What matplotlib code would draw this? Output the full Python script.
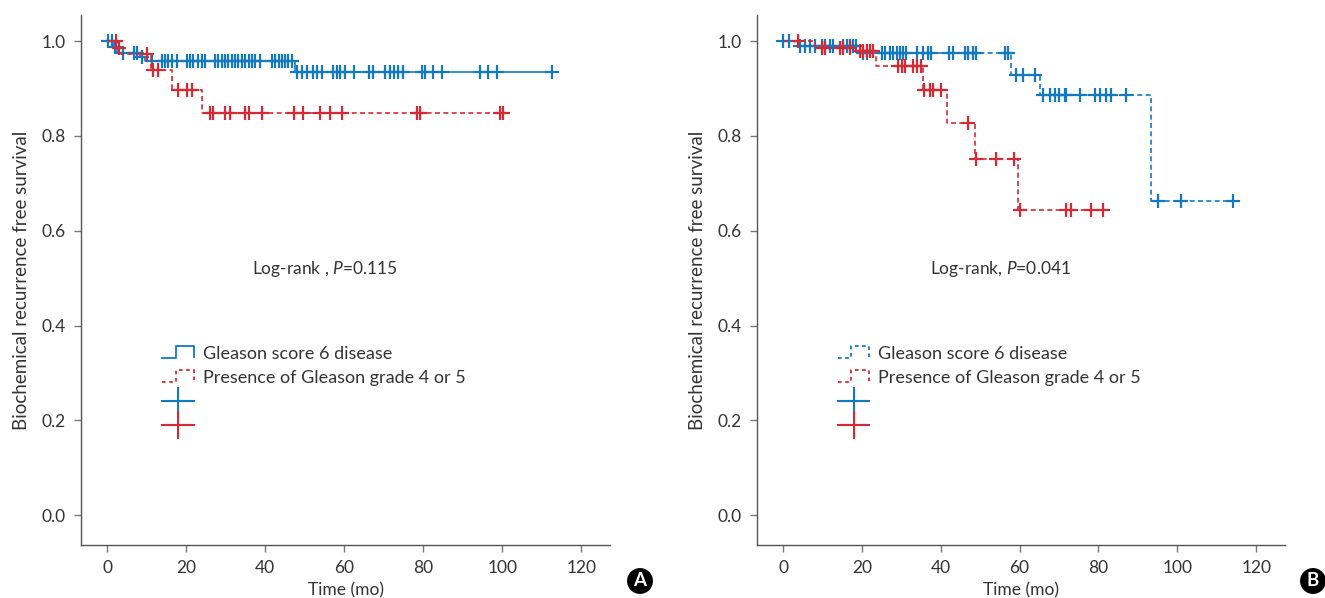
import numpy as np
import matplotlib
matplotlib.use("Agg")
import matplotlib.pyplot as plt
from matplotlib.lines import Line2D
from matplotlib.legend_handler import HandlerBase

plt.rcParams['font.family'] = ['Lato', 'DejaVu Sans']
plt.rcParams['mathtext.fontset'] = 'custom'
plt.rcParams['mathtext.rm'] = 'Lato'
plt.rcParams['mathtext.it'] = 'Lato:italic'

BLUE = '#1479c0'
RED = '#d42a35'

# ---------------- data ----------------
# Panel A
a_blue_step_t = [0, 1.5, 2.5, 8.4, 9.6, 47.5]
a_blue_step_s = [1.0, 0.988, 0.975, 0.966, 0.958, 0.935]
a_blue_cens = [0.3, 1.2, 2.0, 4.1, 6.7, 7.5, 8.8,
               11.3, 13.8, 14.7, 15.5, 16.4, 17.6, 20.2, 21.0, 21.8, 23.1, 24.0, 24.8,
               27.3, 28.2, 29.0, 29.9, 30.7, 31.6, 32.4, 33.2, 34.1, 34.9, 35.8, 36.6, 37.5, 38.7,
               41.7, 42.5, 43.4, 44.2, 45.1, 45.9, 46.8,
               48.0, 49.3, 50.6, 52.2, 53.1, 54.4, 57.3, 58.1, 59.0, 60.3, 62.4, 66.2, 67.4,
               70.4, 71.6, 72.5, 73.7, 75.0, 79.7, 80.5, 82.6, 84.7, 94.4, 96.5, 98.7, 112.6]

a_red_step_t = [0, 2.8, 3.5, 11.0, 16.4, 24.0]
a_red_step_s = [1.0, 0.986, 0.972, 0.939, 0.897, 0.849]
a_red_cens = [2.3, 3.0, 10.0, 11.5, 13.0, 18.0, 20.2, 21.4,
              26.1, 26.9, 29.9, 31.1, 35.0, 36.0, 39.2, 47.2, 49.7, 53.9, 56.5, 59.4,
              78.4, 79.2, 99.5, 100.3]

# Panel B
b_blue_step_t = [0, 3.0, 19.5, 57.9, 65.1, 93.2]
b_blue_step_s = [1.0, 0.989, 0.974, 0.929, 0.886, 0.662]
b_blue_cens = [0.1, 1.4, 4.3, 5.6, 6.8, 8.1, 9.8, 10.6, 11.9, 12.7, 15.3, 16.1, 16.9, 17.8, 18.6,
               20.3, 21.2, 25.0, 25.8, 27.1, 27.9, 28.8, 29.6, 30.5, 31.3, 33.9, 35.5, 36.8, 37.6,
               42.2, 43.1, 46.1, 46.9, 48.2, 49.0, 56.2, 57.0,
               59.2, 60.8, 63.8,
               65.9, 67.6, 68.9, 70.1, 71.4, 71.8, 75.2, 79.0, 80.3, 81.9, 83.2, 87.0,
               95.2, 100.9, 114.2]

b_red_step_t = [0, 8.1, 18.6, 23.7, 35.4, 41.6, 48.6, 59.7]
b_red_step_s = [1.0, 0.986, 0.979, 0.947, 0.897, 0.827, 0.751, 0.643]
b_red_cens = [3.9, 9.8, 10.6, 14.4, 15.3, 16.9, 19.5, 20.3, 21.2, 22.0, 22.9,
              29.2, 30.1, 30.9, 33.0, 33.9, 35.1, 35.7, 37.2, 38.0, 40.1,
              46.9, 49.0, 54.1, 58.7, 60.0, 71.8, 73.1, 78.1, 81.1]

x_ticks = [0, 20, 40, 60, 80, 100, 120]
y_ticks = [0.0, 0.2, 0.4, 0.6, 0.8, 1.0]
legend_labels = ['Gleason score 6 disease', 'Presence of Gleason grade 4 or 5']
pvals = ['Log-rank , $P$=0.115', 'Log-rank, $P$=0.041']
panel_letters = ['A', 'B']


def km_plot(ax, step_t, step_s, cens, color, ls):
    t_end = max(max(cens), step_t[-1])
    xs = list(step_t) + [t_end]
    ys = list(step_s) + [step_s[-1]]
    ax.step(xs, ys, where='post', color=color, lw=1.2, ls=ls,
            dashes=(3, 2) if ls == '--' else (None, None))
    idx = np.searchsorted(step_t, cens, side='right') - 1
    cy = np.array(step_s)[idx]
    ax.plot(cens, cy, ls='none', marker='+', ms=10, mew=1.6, color=color)


class StepHandler(HandlerBase):
    def create_artists(self, legend, orig_handle, xdescent, ydescent,
                       width, height, fontsize, trans):
        x0 = -xdescent
        y0 = -ydescent
        xs = [x0, x0 + 0.43 * width, x0 + 0.43 * width, x0 + width, x0 + width]
        ys = [y0 + 0.05 * height, y0 + 0.05 * height, y0 + 1.0 * height,
              y0 + 1.0 * height, y0 + 0.1 * height]
        ln = Line2D(xs, ys, color=orig_handle.get_color(), lw=1.3,
                    ls=orig_handle.get_linestyle())
        if orig_handle.get_linestyle() == '--':
            ln.set_dashes((2, 2))
        ln.set_transform(trans)
        return [ln]


fig = plt.figure(figsize=(13.25, 5.98), dpi=100)
ax_pos = [[81 / 1325, 53 / 598, 529 / 1325, 530 / 598],
          [757 / 1325, 53 / 598, 528 / 1325, 530 / 598]]

panels = [
    (a_blue_step_t, a_blue_step_s, a_blue_cens, '-', a_red_step_t, a_red_step_s, a_red_cens),
    (b_blue_step_t, b_blue_step_s, b_blue_cens, '--', b_red_step_t, b_red_step_s, b_red_cens),
]

for i, (bt, bs, bc, bls, rt, rs, rc) in enumerate(panels):
    ax = fig.add_axes(ax_pos[i])
    km_plot(ax, bt, bs, bc, BLUE, bls)
    km_plot(ax, rt, rs, rc, RED, '--')
    ax.set_xlim(-6.6, 127.3)
    ax.set_ylim(-0.063, 1.055)
    ax.set_xticks(x_ticks)
    ax.set_yticks(y_ticks)
    ax.set_yticklabels([f'{v:.1f}' for v in y_ticks])
    for s in ['top', 'right']:
        ax.spines[s].set_visible(False)
    for s in ['left', 'bottom']:
        ax.spines[s].set_color('#555555')
        ax.spines[s].set_linewidth(1.0)
    ax.tick_params(direction='out', length=5, width=1, color='#777777',
                   labelsize=12.5, labelcolor='#333333', pad=6)
    ax.set_xlabel('Time (mo)', fontsize=12.5, color='#333333', labelpad=4)
    ax.set_ylabel('Biochemical recurrence free survival', fontsize=13.5,
                  color='#333333', labelpad=8)
    ax.text(55.2, 0.52, pvals[i], fontsize=12.5, color='#333333',
            ha='center', va='center')

    h1 = Line2D([], [], color=BLUE, ls=bls)
    h2 = Line2D([], [], color=RED, ls='--')
    h3 = Line2D([0], [0], color=BLUE, lw=1.5, marker='+', ms=20, mew=1.5)
    h4 = Line2D([0], [0], color=RED, lw=1.5, marker='+', ms=20, mew=1.5)
    leg = ax.legend([h1, h2, h3, h4], legend_labels + [' ', ' '],
                    handler_map={h1: StepHandler(), h2: StepHandler()},
                    loc='upper left', bbox_to_anchor=(0.153, 0.376),
                    frameon=False, fontsize=13, handlelength=1.75,
                    handletextpad=0.5, labelspacing=0.46, borderpad=0,
                    borderaxespad=0, numpoints=1)
    for t in leg.get_texts():
        t.set_color('#333333')

    fig.text([640 / 1325, 1313 / 1325][i], 1 - 581 / 598, panel_letters[i],
             ha='center', va='center', color='white', fontsize=13.5,
             fontweight='bold',
             bbox=dict(boxstyle='circle,pad=0.2', fc='black', ec='black'))

fig.savefig('out.png', dpi=100)
